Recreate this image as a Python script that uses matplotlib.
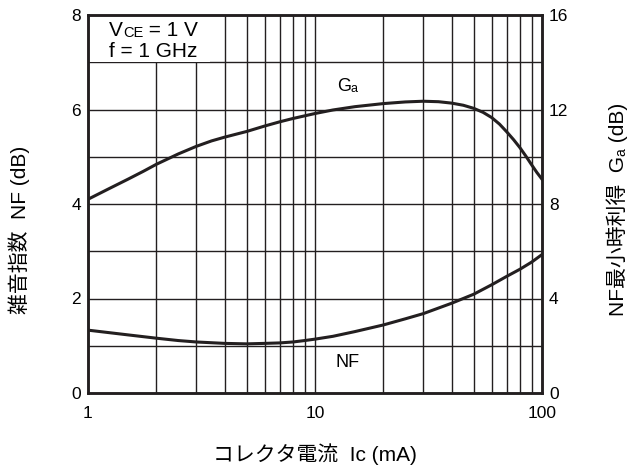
import numpy as np
import matplotlib
matplotlib.use("Agg")
import matplotlib.pyplot as plt
from matplotlib.patches import Rectangle

plt.rcParams['font.family'] = ['Liberation Sans', 'Noto Sans CJK JP', 'DejaVu Sans']

# collector current (mA) and curves
ic_ga = [1, 1.25, 1.5, 1.75, 2, 2.5, 3, 3.5, 4, 5, 6, 7, 8, 10, 12, 15, 20, 25, 30, 35,
         40, 45, 50, 55, 60, 65, 70, 75, 80, 85, 90, 95, 100]
ga = [8.2, 8.67, 9.05, 9.38, 9.68, 10.12, 10.44, 10.67, 10.83, 11.07, 11.3, 11.48, 11.62,
      11.83, 11.98, 12.12, 12.25, 12.32, 12.35, 12.33, 12.27, 12.18, 12.05, 11.88, 11.66,
      11.38, 11.05, 10.72, 10.38, 10.02, 9.66, 9.33, 9.05]

ic_nf = [1, 1.5, 2, 2.5, 3, 4, 5, 6, 7, 8, 9, 10, 12, 15, 20, 25, 30, 40, 50, 60, 70, 80,
         90, 100]
nf = [1.33, 1.23, 1.16, 1.11, 1.08, 1.05, 1.04, 1.05, 1.06, 1.08, 1.11, 1.14, 1.2, 1.3,
      1.44, 1.57, 1.68, 1.90, 2.09, 2.29, 2.47, 2.62, 2.77, 2.93]

xticks = [1, 10, 100]
xticklabels = ['1', '10', '100']
nf_ticks = [0, 2, 4, 6, 8]
ga_ticks = [0, 4, 8, 12, 16]

fs = 12.5
lfs = 15
ink = '#231f20'

fig = plt.figure(figsize=(6.32, 4.70), dpi=100)
ax = fig.add_axes([88/632, 1-393/470, (542-88)/632, (393-15)/470])
ax.set_xscale('log')
ax.set_xlim(1, 100)
ax.set_ylim(0, 8)

# grid
minor_x = [m * d for d in (1, 10) for m in range(2, 10)]
for xv in minor_x + [10]:
    ax.axvline(xv, color=ink, lw=1.0, zorder=1)
for yv in range(1, 8):
    ax.axhline(yv, color=ink, lw=1.0, zorder=1)

# white box behind the conditions text
ax.add_patch(Rectangle((1, 7), 2.45, 1, facecolor='white', edgecolor='none', zorder=2))

ax.plot(ic_nf, nf, color=ink, lw=2.2, zorder=3, solid_joinstyle='round')
ax2 = ax.twinx()
ax2.set_ylim(0, 16)
ax2.plot(ic_ga, ga, color=ink, lw=2.2, zorder=3, solid_joinstyle='round')

ax.set_xticks(xticks)
ax.set_xticklabels(xticklabels)
ax.xaxis.set_minor_locator(matplotlib.ticker.NullLocator())
ax.set_yticks(nf_ticks)
ax2.set_yticks(ga_ticks)
ax.tick_params(axis='x', length=0, pad=9, labelsize=fs)
ax.tick_params(axis='y', length=0, pad=5, labelsize=fs)
ax2.tick_params(axis='y', length=0, pad=5, labelsize=fs)

for a in (ax, ax2):
    for s in a.spines.values():
        s.set_linewidth(1.8)
        s.set_color(ink)
        s.set_zorder(5)

# conditions text
tv = ax.text(1.24, 7.56, 'V', fontsize=lfs, va='baseline', ha='left', zorder=4)
tce = ax.annotate('CE', xy=(1, 0), xycoords=tv, fontsize=lfs - 4.5, va='bottom', ha='left', zorder=4)
ax.annotate(' = 1 V', xy=(1, 0), xycoords=tce, fontsize=lfs, va='bottom', ha='left', zorder=4)
ax.text(1.24, 7.11, 'f = 1 GHz', fontsize=lfs, va='baseline', ha='left', zorder=4)

# curve labels
tg = ax.text(12.5, 6.48, 'G', fontsize=fs + 0.5, ha='left', va='center', zorder=4)
ax.annotate('a', xy=(1, 0), xycoords=tg, fontsize=fs - 3.5, va='bottom', ha='left', zorder=4)
ax.text(13.9, 0.635, 'NF', fontsize=fs + 0.5, ha='center', va='center', zorder=4)

fig.text(315/632, 1-454/470, 'コレクタ電流  Ic (mA)', fontsize=lfs, ha='center', va='center')
fig.text(19/632, 1-230/470, '雑音指数  NF (dB)', fontsize=lfs, ha='center', va='center', rotation=90)

# right label, built from pieces so the "a" can be small
tr = fig.text(628/632, 1-316/470, 'NF最小時利得  G', fontsize=lfs, ha='right', va='bottom', rotation=90)
tra = fig.add_artist(plt.Annotation('a', xy=(1, 1), xycoords=tr, fontsize=lfs - 5, ha='right',
                                    va='bottom', rotation=90))
fig.add_artist(plt.Annotation(' (dB)', xy=(1, 1), xycoords=tra, fontsize=lfs, ha='right',
                              va='bottom', rotation=90))

fig.savefig('out.png', dpi=100, facecolor='white')
